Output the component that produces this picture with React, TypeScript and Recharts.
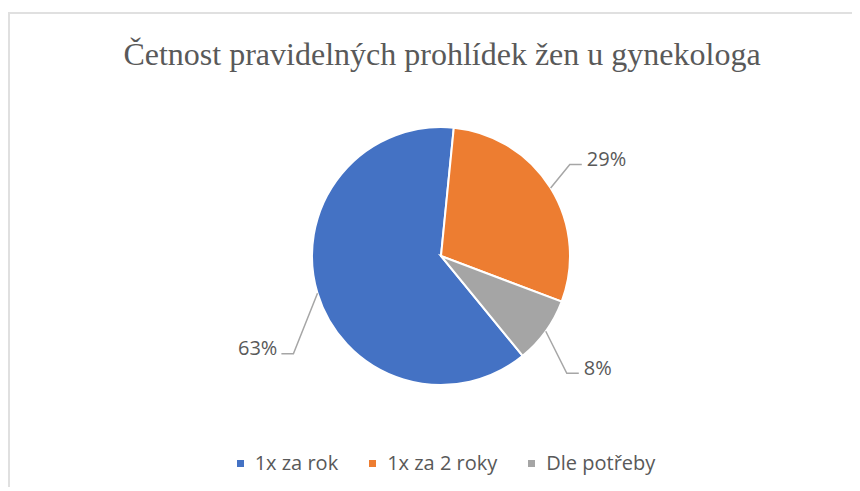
import { PieChart, Pie, Cell, Legend } from 'recharts'

const categories = ['1x za rok', '1x za 2 roky', 'Dle potřeby']
const counts = [15, 7, 2]
const COLORS = ['#4472C4', '#ED7D31', '#A5A5A5']

// label placement tweaks (angle shift in degrees, extra radius), same order as categories
const LABEL_NUDGE = [
  [16.7, 48],
  [3.6, 29],
  [-7.3, 43],
]

const data = categories.map((name, i) => ({ name, value: counts[i] }))

const RAD = Math.PI / 180

const renderLabel = (props: any) => {
  const { cx, cy, midAngle, outerRadius, percent, index } = props
  const [dA, dR] = LABEL_NUDGE[index]
  const a0 = -midAngle * RAD
  const sx = cx + outerRadius * Math.cos(a0)
  const sy = cy + outerRadius * Math.sin(a0)
  const a1 = -(midAngle + dA) * RAD
  const r1 = outerRadius + dR
  const ex = cx + r1 * Math.cos(a1)
  const ey = cy + r1 * Math.sin(a1)
  const right = ex > cx
  const hx = ex + (right ? 12 : -12)
  const tx = hx + (right ? 5 : -4)
  return (
    <g>
      <polyline
        points={`${sx},${sy} ${ex},${ey} ${hx},${ey}`}
        stroke="#A6A6A6"
        strokeWidth={1.5}
        fill="none"
      />
      <text
        x={tx}
        y={ey - 6}
        textAnchor={right ? 'start' : 'end'}
        dominantBaseline="central"
        fill="#595959"
        fontSize={20}
        fontFamily="'Open Sans', sans-serif"
      >
        {Math.round(percent * 100)}%
      </text>
    </g>
  )
}

const renderLegend = (props: any) => {
  const payload = [...(props.payload || [])].sort(
    (a: any, b: any) => categories.indexOf(a.value) - categories.indexOf(b.value)
  )
  return (
    <div style={{ display: 'flex', justifyContent: 'center', paddingLeft: 22 }}>
      {payload.map((entry: any, i: number) => (
        <div
          key={`legend-${i}`}
          style={{
            display: 'flex',
            alignItems: 'center',
            marginRight: i < payload.length - 1 ? 31 : 0,
            fontFamily: "'Open Sans', sans-serif",
            fontSize: 20,
            color: '#595959',
            lineHeight: '26px',
          }}
        >
          <span
            style={{
              display: 'inline-block',
              width: 7,
              height: 7,
              background: entry.color,
              marginRight: 11,
            }}
          />
          {entry.value}
        </div>
      ))}
    </div>
  )
}

export default function App() {
  return (
    <div style={{ paddingTop: 4 }}>
      <div
        style={{
          position: 'relative',
          width: 850,
          height: 473,
          borderTop: '2px solid #E0E0E0',
          borderLeft: '2px solid #E0E0E0',
          background: '#fff',
        }}
      >
        <div
          style={{
            position: 'absolute',
            top: 24,
            left: 7,
            width: 850,
            textAlign: 'center',
            fontFamily: "'Liberation Serif', 'Times New Roman', serif",
            fontSize: 32,
            lineHeight: '32px',
            color: '#595959',
            whiteSpace: 'nowrap',
          }}
        >
          Četnost pravidelných prohlídek žen u gynekologa
        </div>
        <PieChart width={850} height={473} margin={{ top: 0, right: 0, bottom: 0, left: 0 }}>
          <Pie
            data={data}
            dataKey="value"
            nameKey="name"
            cx={431}
            cy={242}
            outerRadius={129}
            startAngle={-50.7}
            endAngle={-410.7}
            stroke="#ffffff"
            strokeWidth={2}
            label={renderLabel}
            labelLine={false}
            isAnimationActive={false}
          >
            {data.map((entry, index) => (
              <Cell key={`cell-${index}`} fill={COLORS[index % COLORS.length]} />
            ))}
          </Pie>
          <Legend
            verticalAlign="bottom"
            content={renderLegend}
            wrapperStyle={{ top: 436, bottom: 'auto', left: 0, width: 850 }}
          />
        </PieChart>
      </div>
    </div>
  )
}
